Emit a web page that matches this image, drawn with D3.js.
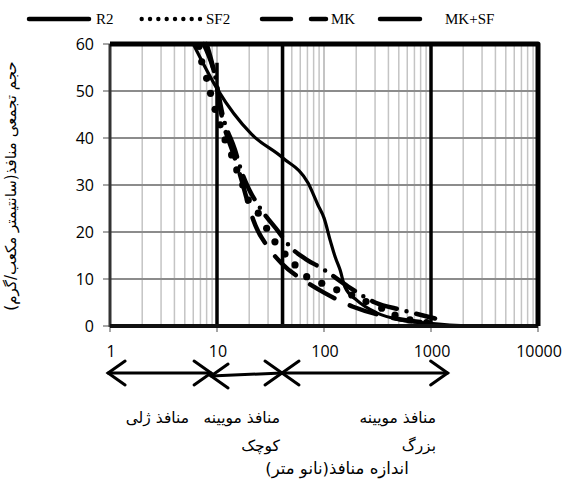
<!DOCTYPE html>
<html>
<head>
<meta charset="utf-8">
<script src="https://cdn.jsdelivr.net/npm/d3@7"></script>
<style>
  body { margin: 0; background: #fff; }
  svg { display: block; }
</style>
</head>
<body>
<div id="chart"></div>
<script>
// values: [pore size nm, cumulative volume]
const xTicks = [1, 10, 100, 1000, 10000]
const yTicks = [0, 10, 20, 30, 40, 50, 60]
const seriesNames = ['R2', 'SF2', 'MK', 'MK+SF']

const r2 = [[6, 60], [10, 50.5], [21, 40.8], [41, 35.8], [71, 30.4], [88, 25.7], [100, 23],
  [115, 18], [128, 14.5], [141, 12], [157, 8.3], [202, 5.5], [311, 2.8], [513, 1.3], [912, 0.6],
  [1500, 0.2], [3000, 0], [10000, 0]]
const sf2 = [[6.8, 59.5], [7.2, 56.2], [8.0, 52.7], [8.7, 49.5], [9.6, 46.1], [10.7, 42.8], [11.9, 39.6],
  [13.7, 36.4], [15.3, 33.2], [17.4, 30], [19.6, 26.8], [24.3, 24], [29.1, 20.8], [34.8, 17.9],
  [43.2, 15.3], [53.6, 13], [68.9, 10.5], [95.3, 9.1], [131.5, 7.7], [181.6, 6.6], [247, 5.2],
  [346, 3.8], [461, 2.3], [636, 1.3], [912, 0.7]]
const mk = [[8.0, 60], [9.8, 52], [11.0, 45], [14.2, 36.7], [17.0, 31], [19, 27], [21.8, 22.6],
  [31.3, 16.2], [40.3, 13.3], [71.3, 9.1], [102, 7], [187, 4.1], [350, 2.2], [600, 1.2], [1000, 0.6]]
const mkSf = [[7.5, 60], [9.4, 54], [11.4, 44.5], [14.7, 37.5], [17, 32.8], [20, 29], [24.3, 25.7],
  [37.5, 20.1], [49, 16.7], [68, 14.2], [95, 12.3], [168, 8.4], [300, 5], [533, 3.4], [1090, 1.6]]

const boundaries = [[10, 56], [41, 60], [1000, 60]]
const zoneEdges = [0.96, 8.8, 40.5, 1430]
const zoneLabels = [['منافذ ژلی'], ['منافذ مویینه', 'کوچک'], ['منافذ مویینه', 'بزرگ']]
const xTitle = 'اندازه منافذ(نانو متر)'
const yTitle = 'حجم تجمعی منافذ(سانتیمتر مکعب/گرم)'

const width = 572, height = 483
const svg = d3.select('#chart').append('svg')
  .attr('width', width)
  .attr('height', height)

const x = d3.scaleLog().domain([1, 10000]).range([110, 538])
const y = d3.scaleLinear().domain([0, 60]).range([326, 44])

// grid
const decades = new Set(xTicks)
svg.append('g').selectAll('line')
  .data(x.ticks().filter(d => !decades.has(d)))
  .join('line')
  .attr('x1', d => x(d)).attr('x2', d => x(d))
  .attr('y1', y(0)).attr('y2', y(60))
  .attr('stroke', '#c4c4c4').attr('stroke-width', 1.5)

svg.append('g').selectAll('line')
  .data(xTicks.slice(1, -1))
  .join('line')
  .attr('x1', d => x(d)).attr('x2', d => x(d))
  .attr('y1', y(0)).attr('y2', y(60))
  .attr('stroke', '#b0b0b0').attr('stroke-width', 1.5)

svg.append('g').selectAll('line')
  .data(yTicks.slice(1, -1))
  .join('line')
  .attr('x1', x(1)).attr('x2', x(10000))
  .attr('y1', d => y(d)).attr('y2', d => y(d))
  .attr('stroke', '#8c8c8c').attr('stroke-width', 2)

// tick marks
svg.append('g').selectAll('line')
  .data(yTicks)
  .join('line')
  .attr('x1', x(1) - 7).attr('x2', x(1))
  .attr('y1', d => y(d)).attr('y2', d => y(d))
  .attr('stroke', '#888').attr('stroke-width', 1.5)

svg.append('g').selectAll('line')
  .data(xTicks)
  .join('line')
  .attr('x1', d => x(d)).attr('x2', d => x(d))
  .attr('y1', y(0)).attr('y2', y(0) + 6)
  .attr('stroke', '#888').attr('stroke-width', 1.5)

// curves
const line = d3.line()
  .x(d => x(d[0]))
  .y(d => y(d[1]))
  .curve(d3.curveMonotoneX)

svg.append('path')
  .datum(r2)
  .attr('d', line)
  .attr('fill', 'none')
  .attr('stroke', '#000')
  .attr('stroke-width', 3.2)

svg.append('path')
  .datum(mk)
  .attr('d', line)
  .attr('fill', 'none')
  .attr('stroke', '#000')
  .attr('stroke-width', 4.5)
  .attr('stroke-linecap', 'round')
  .attr('stroke-dasharray', '28,17')

svg.append('path')
  .datum(mkSf)
  .attr('d', line)
  .attr('fill', 'none')
  .attr('stroke', '#000')
  .attr('stroke-width', 4.5)
  .attr('stroke-linecap', 'round')
  .attr('stroke-dasharray', '26,10,0,10')

svg.append('g').selectAll('circle')
  .data(sf2)
  .join('circle')
  .attr('cx', d => x(d[0]))
  .attr('cy', d => y(d[1]))
  .attr('r', 3.6)
  .attr('fill', '#000')

// vertical boundary lines
svg.append('g').selectAll('line')
  .data(boundaries)
  .join('line')
  .attr('x1', d => x(d[0])).attr('x2', d => x(d[0]))
  .attr('y1', y(0)).attr('y2', d => y(d[1]))
  .attr('stroke', '#000').attr('stroke-width', 3.5)

// frame
svg.append('line')
  .attr('x1', x(1)).attr('x2', x(1)).attr('y1', y(0) + 1).attr('y2', y(60))
  .attr('stroke', '#333').attr('stroke-width', 3)
svg.append('line')
  .attr('x1', x(1)).attr('x2', x(10000)).attr('y1', y(0)).attr('y2', y(0))
  .attr('stroke', '#111').attr('stroke-width', 4)
svg.append('path')
  .attr('d', `M${x(1)},${y(60)}H${x(10000)}V${y(0)}`)
  .attr('fill', 'none')
  .attr('stroke', '#000').attr('stroke-width', 5)
  .attr('stroke-linejoin', 'round')

// tick labels
svg.append('g').selectAll('text')
  .data(yTicks)
  .join('text')
  .attr('x', 94)
  .attr('y', d => y(d))
  .attr('dy', '0.36em')
  .attr('text-anchor', 'end')
  .attr('font-family', 'Open Sans, sans-serif')
  .attr('font-size', 16)
  .text(d => d)

svg.append('g').selectAll('text')
  .data(xTicks)
  .join('text')
  .attr('x', d => x(d) + 1)
  .attr('y', 357)
  .attr('text-anchor', 'middle')
  .attr('font-family', 'Open Sans, sans-serif')
  .attr('font-size', 16)
  .text(d => d)

// axis titles
svg.append('text')
  .attr('transform', 'translate(16,186) rotate(-90)')
  .attr('text-anchor', 'middle')
  .attr('direction', 'rtl')
  .attr('font-family', 'DejaVu Sans, sans-serif')
  .attr('font-size', 15)
  .text(yTitle)

svg.append('text')
  .attr('x', 337)
  .attr('y', 474)
  .attr('text-anchor', 'middle')
  .attr('direction', 'rtl')
  .attr('font-family', 'DejaVu Sans, sans-serif')
  .attr('font-size', 16.5)
  .text(xTitle)

// pore-zone arrows
const ay = 373
const arrows = svg.append('g').attr('stroke', '#000').attr('stroke-width', 3).attr('fill', 'none')
  .attr('stroke-linecap', 'round')
zoneEdges.slice(0, -1).forEach((d, i) => {
  const x0 = x(d), x1 = x(zoneEdges[i + 1])
  const y0 = i === 1 ? ay + 3 : ay
  arrows.append('line').attr('x1', x0).attr('y1', y0).attr('x2', x1).attr('y2', ay)
  arrows.append('path').attr('d', `M${x0 + 17},${y0 - 12}L${x0},${y0}L${x0 + 17},${y0 + 12}`)
  arrows.append('path').attr('d', `M${x1 - 17},${ay - 12}L${x1},${ay}L${x1 - 17},${ay + 12}`)
})

const labelRight = [189, 280, 436]
zoneLabels.forEach((lines, i) => {
  lines.forEach((t, j) => {
    svg.append('text')
      .attr('x', labelRight[i])
      .attr('y', 423 + j * 28)
      .attr('text-anchor', 'start')
      .attr('direction', 'rtl')
      .attr('font-family', 'DejaVu Sans, sans-serif')
      .attr('font-size', 15.5)
      .text(t)
  })
})

// legend
const legend = svg.append('g')
const ly = 19
legend.append('line')
  .attr('x1', 29).attr('x2', 89).attr('y1', ly).attr('y2', ly)
  .attr('stroke', '#000').attr('stroke-width', 4.5).attr('stroke-linecap', 'round')
legend.append('g').selectAll('circle')
  .data(d3.range(8))
  .join('circle')
  .attr('cx', d => 141.7 + d * 8.33)
  .attr('cy', ly)
  .attr('r', 2.2)
  .attr('fill', '#000')
legend.append('line')
  .attr('x1', 262).attr('x2', 326).attr('y1', ly).attr('y2', ly)
  .attr('stroke', '#000').attr('stroke-width', 4.5).attr('stroke-linecap', 'round')
  .attr('stroke-dasharray', '29,20')
legend.append('line')
  .attr('x1', 380).attr('x2', 430).attr('y1', ly).attr('y2', ly)
  .attr('stroke', '#000').attr('stroke-width', 4.5).attr('stroke-linecap', 'round')
  .attr('stroke-dasharray', '40,10,0,10')

const labelX = [96, 206, 331, 445]
legend.selectAll('text')
  .data(seriesNames)
  .join('text')
  .attr('x', (d, i) => labelX[i])
  .attr('y', 24)
  .attr('font-family', 'Liberation Serif, serif')
  .attr('font-size', 15)
  .text(d => d)
</script>
</body>
</html>
